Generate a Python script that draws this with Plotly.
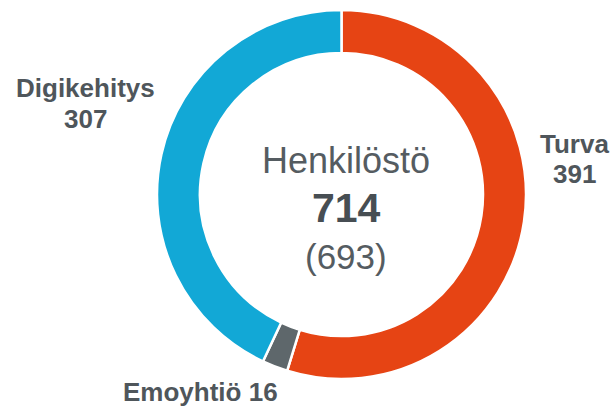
import plotly.graph_objects as go

labels = ["Turva", "Emoyhtiö", "Digikehitys"]
values = [391, 16, 307]
colors = ["#E64414", "#5E676B", "#12A8D6"]
center_title = "Henkilöstö"
previous_total = 693
total = sum(values)

W, H = 614, 409
FONT = "Liberation Sans, Arial, sans-serif"
TXT = "#4F565B"

def px(x):
    return x / W

def py(y):
    return 1 - y / H

cx, cy, r = 341.5, 194.5, 184.5

fig = go.Figure(go.Pie(
    labels=labels, values=values, sort=False, direction="clockwise", rotation=0,
    hole=0.767, marker=dict(colors=colors, line=dict(color="white", width=2.5)),
    textinfo="none", hoverinfo="label+value", showlegend=False,
    domain=dict(x=[px(cx - r), px(cx + r)], y=[py(cy + r), py(cy - r)]),
))

ann = []
def add(text, x, y, size, bold=False, color=TXT):
    ann.append(dict(text=f"<b>{text}</b>" if bold else text, x=px(x), y=py(y),
                    xref="paper", yref="paper", showarrow=False,
                    xanchor="center", yanchor="middle",
                    font=dict(family=FONT, size=size, color=color)))

# center
add(center_title, 346, 173 - 0.36 * 36, 36, color="#555C61")
add(str(total), 346, 223 - 0.36 * 41, 41, bold=True, color="#474E53")
add(f"({previous_total})", 346, 269 - 0.36 * 35, 35, color="#555C61")

# slice labels
add(labels[0], 574, 153 - 0.36 * 26, 26, bold=True)
add(str(values[0]), 574, 183 - 0.36 * 26, 26, bold=True)
add(labels[2], 85, 97 - 0.36 * 26, 26, bold=True)
add(str(values[2]), 85, 128 - 0.36 * 26, 26, bold=True)
add(f"{labels[1]} {values[1]}", 200, 401 - 0.36 * 26, 26, bold=True)

fig.update_layout(width=W, height=H, margin=dict(l=0, r=0, t=0, b=0),
                  paper_bgcolor="white", plot_bgcolor="white", annotations=ann)
fig.write_html("out.html", config={"displayModeBar": False},
               post_script="document.body.style.margin='0';document.body.style.overflow='hidden';")
